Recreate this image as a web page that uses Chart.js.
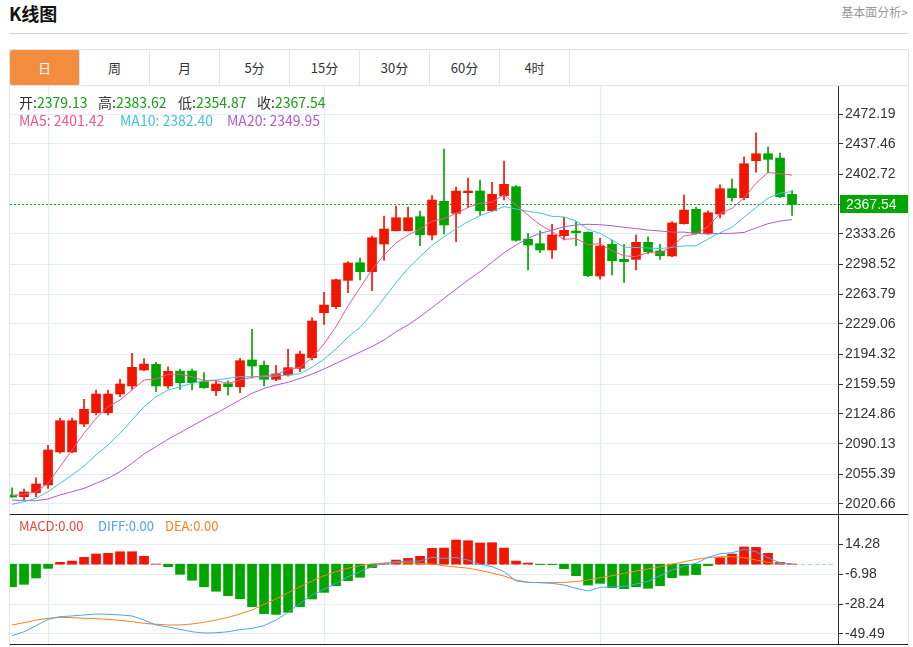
<!DOCTYPE html>
<html lang="zh-CN">
<head>
<meta charset="utf-8">
<title>K线图</title>
<script src="https://cdn.jsdelivr.net/npm/chart.js@4.4.1/dist/chart.umd.min.js"></script>
<style>
    html, body { margin: 0; padding: 0; background: #fff; }
    body { width: 913px; height: 647px; position: relative; overflow: hidden;
           font-family: "Noto Sans CJK SC", "Noto Sans", sans-serif; color: #333; }
    .title { position: absolute; left: 9px; top: 0; font-size: 18px; font-weight: bold; color: #111; line-height: 26px; }
    .more { position: absolute; right: 5px; top: 4px; font-size: 12px; color: #999; line-height: 16px; }
    .rule { position: absolute; left: 9px; top: 33px; width: 899px; height: 1px; background: #d4d4d4; }
    .tabs { position: absolute; left: 9px; top: 49px; width: 898px; height: 35px; border: 1px solid #e3e3e3; display: flex; }
    .tabs span { width: 69px; border-right: 1px solid #e3e3e3; text-align: center; line-height: 35px; font-size: 13px; }
    .tabs span.on { background: #f28c3e; color: #fff; border-radius: 2px; }
    .vline { position: absolute; width: 1px; background: #e3e3e3; }
    .black { position: absolute; left: 10px; width: 898px; height: 1px; background: #222; }
    canvas { position: absolute; left: 0; }
    .legend { position: absolute; font-size: 14px; line-height: 16px; white-space: pre; }
    .legend.small { font-size: 13px; }
    .legend span { position: absolute; top: 0; }
</style>
</head>
<body>
<div class="title">K线图</div>
<div class="more">基本面分析&gt;</div>
<div class="rule"></div>
<div class="tabs">
    <span class="on">日</span><span>周</span><span>月</span><span>5分</span><span>15分</span><span>30分</span><span>60分</span><span>4时</span>
</div>
<div class="vline" style="left:9px;top:85px;height:562px"></div>
<div class="vline" style="left:908px;top:49px;height:598px"></div>

<canvas id="kline" width="913" height="428" style="top:86px"></canvas>
<canvas id="macd" width="913" height="133" style="top:514px"></canvas>

<div class="black" style="top:514px"></div>
<div class="black" style="top:644px"></div>

<div class="legend" id="ohlc_legend" style="left:0;top:94px;width:400px;height:16px"></div>
<div class="legend" id="ma_legend" style="left:0;top:112px;width:400px;height:16px"></div>
<div class="legend small" id="macd_legend" style="left:0;top:518px;width:400px;height:16px"></div>

<script>
'use strict';

// daily candles, oldest first (last one is the current day)
const opens = [
    2031.1, 2029.1, 2033.7, 2042.7, 2080.9, 2080.9, 2113.3, 2126.4, 2126.4, 2148.0,
    2157.3, 2175.8, 2182.4, 2157.3, 2174.6, 2174.6, 2162.2, 2151.8, 2159.9, 2156.5,
    2187.4, 2181.2, 2165.0, 2170.0, 2177.8, 2190.0, 2242.1, 2249.1, 2279.6, 2300.0,
    2289.6, 2321.7, 2337.0, 2337.0, 2353.3, 2332.1, 2371.1, 2357.2, 2381.1, 2383.0,
    2360.2, 2377.6, 2388.0, 2327.4, 2322.0, 2314.7, 2331.3, 2336.7, 2335.2, 2284.6,
    2321.3, 2303.9, 2303.9, 2323.6, 2313.6, 2307.8, 2345.2, 2361.8, 2334.0, 2356.4,
    2385.7, 2375.3, 2418.1, 2426.2, 2421.2, 2379.13
];
const highs = [
    2039.5, 2038.0, 2051.1, 2088.6, 2120.2, 2120.2, 2141.9, 2152.6, 2152.6, 2165.0,
    2195.1, 2188.9, 2184.7, 2179.6, 2176.9, 2176.9, 2172.7, 2163.4, 2163.4, 2189.3,
    2222.9, 2186.2, 2181.2, 2199.8, 2197.8, 2236.3, 2265.7, 2281.1, 2301.2, 2305.4,
    2330.9, 2354.1, 2365.6, 2364.5, 2359.9, 2377.6, 2431.6, 2387.6, 2398.1, 2395.7,
    2393.1, 2417.7, 2389.2, 2334.0, 2337.0, 2344.5, 2352.6, 2347.5, 2335.9, 2328.3,
    2326.3, 2321.3, 2332.1, 2330.1, 2321.3, 2347.5, 2378.4, 2364.1, 2360.2, 2390.3,
    2396.9, 2422.7, 2450.5, 2434.3, 2427.0, 2383.62
];
const lows = [
    2028.2, 2025.3, 2029.1, 2038.8, 2079.4, 2080.0, 2110.1, 2123.7, 2123.7, 2144.9,
    2153.4, 2175.0, 2150.7, 2154.6, 2153.4, 2152.6, 2154.5, 2146.0, 2146.8, 2149.5,
    2166.2, 2157.3, 2163.4, 2168.8, 2173.8, 2187.4, 2228.7, 2246.8, 2265.3, 2280.0,
    2267.6, 2303.1, 2336.7, 2336.7, 2319.7, 2326.3, 2333.3, 2324.3, 2364.1, 2355.2,
    2359.1, 2372.6, 2325.1, 2291.6, 2311.6, 2305.1, 2326.3, 2319.7, 2283.8, 2281.1,
    2285.8, 2277.3, 2291.6, 2310.1, 2303.9, 2307.0, 2344.5, 2333.2, 2333.2, 2351.8,
    2371.4, 2372.6, 2404.9, 2403.9, 2375.3, 2354.87
];
const closes = [
    2028.8, 2034.6, 2043.8, 2083.2, 2117.1, 2117.1, 2130.3, 2148.0, 2148.0, 2159.6,
    2178.9, 2182.7, 2157.3, 2174.3, 2161.1, 2161.1, 2155.3, 2159.6, 2156.5, 2186.6,
    2180.4, 2165.0, 2171.2, 2178.5, 2194.3, 2232.5, 2251.0, 2280.3, 2299.7, 2289.6,
    2328.9, 2339.0, 2352.1, 2352.1, 2332.4, 2372.6, 2343.7, 2383.0, 2383.0, 2360.2,
    2379.2, 2390.8, 2326.0, 2320.5, 2314.7, 2332.1, 2337.5, 2334.7, 2285.0, 2319.3,
    2302.3, 2301.2, 2323.6, 2312.7, 2308.1, 2346.0, 2361.0, 2334.0, 2357.9, 2385.7,
    2375.3, 2414.6, 2426.2, 2419.7, 2376.4, 2367.54
];

// moving averages as plotted
const ma5 = [
    2030.3, 2031.9, 2034.9, 2044.6, 2063.8, 2083.2, 2102.5, 2119.9, 2133.3, 2141.1,
    2152.6, 2164.2, 2165.4, 2170.8, 2170.8, 2168.0, 2163.4, 2163.4, 2160.4, 2164.2,
    2167.3, 2169.2, 2170.3, 2176.6, 2178.9, 2190.0, 2206.0, 2226.0, 2250.0, 2271.0,
    2292.0, 2309.0, 2323.0, 2332.0, 2339.0, 2348.0, 2351.0, 2357.0, 2364.0, 2369.0,
    2370.0, 2379.0, 2367.0, 2355.0, 2344.0, 2336.0, 2327.0, 2328.0, 2321.0, 2322.0,
    2314.0, 2308.0, 2307.0, 2312.0, 2311.0, 2319.0, 2331.0, 2333.0, 2342.0, 2357.0,
    2363.0, 2375.0, 2392.0, 2404.5, 2403.0, 2401.42
];
const ma10 = [
    2020.3, 2023.3, 2027.3, 2034.9, 2044.6, 2054.2, 2064.7, 2077.4, 2089.0, 2102.5,
    2117.9, 2133.3, 2144.9, 2152.6, 2156.5, 2160.4, 2163.4, 2164.2, 2166.2, 2168.0,
    2168.0, 2168.0, 2168.8, 2170.0, 2171.5, 2179.0, 2188.5, 2200.0, 2214.0, 2225.0,
    2241.0, 2259.0, 2277.0, 2293.5, 2307.0, 2320.0, 2330.0, 2339.5, 2347.5, 2354.5,
    2359.5, 2365.0, 2362.2, 2359.5, 2357.6, 2353.7, 2353.0, 2348.3, 2338.5, 2334.0,
    2326.3, 2318.0, 2317.6, 2317.0, 2316.5, 2317.7, 2319.5, 2319.5, 2327.5, 2334.6,
    2341.2, 2352.6, 2364.0, 2374.6, 2380.6, 2382.40
];
const ma20 = [
    2025.3, 2024.5, 2024.5, 2026.5, 2031.1, 2034.9, 2038.8, 2044.6, 2050.4, 2058.1,
    2067.8, 2078.5, 2087.0, 2095.6, 2103.2, 2111.0, 2118.7, 2125.7, 2133.3, 2141.1,
    2148.8, 2154.5, 2158.5, 2161.5, 2166.0, 2171.0, 2177.0, 2183.5, 2190.0, 2196.5,
    2203.0, 2210.5, 2220.1, 2227.9, 2237.5, 2248.0, 2258.8, 2269.3, 2280.0, 2289.6,
    2300.5, 2311.6, 2320.5, 2328.3, 2334.1, 2337.5, 2341.7, 2343.7, 2344.5, 2344.0,
    2342.8, 2341.0, 2339.5, 2337.8, 2336.7, 2335.5, 2335.4, 2333.9, 2333.2, 2333.9,
    2334.1, 2335.1, 2340.3, 2345.2, 2348.2, 2349.95
];

// MACD panel
const macd_hist = [
    -16.0, -14.3, -9.8, -3.0, 1.3, 2.2, 4.8, 7.2, 7.7, 8.8,
    8.8, 5.6, 0.1, -1.8, -7.2, -11.4, -16.0, -19.2, -22.3, -24.5,
    -30.1, -35.1, -35.6, -34.1, -30.1, -24.7, -20.0, -15.3, -11.7, -9.3,
    -2.5, 0.3, 2.9, 4.1, 5.6, 11.2, 11.4, 17.1, 16.6, 15.0,
    15.2, 11.4, 2.2, 0.8, -0.3, -0.3, -3.2, -8.2, -14.8, -13.6,
    -16.7, -17.4, -16.0, -17.1, -15.3, -9.6, -7.9, -7.4, -1.1, 4.6,
    7.2, 12.2, 11.9, 7.7, 1.3, 0.1
];
const diff = [
    -50.7, -47.9, -43.6, -39.1, -37.2, -36.7, -36.0, -35.3, -35.5, -36.0,
    -36.7, -39.6, -43.1, -44.5, -46.2, -47.9, -48.8, -48.6, -47.9, -46.4,
    -45.5, -43.6, -39.6, -34.1, -27.8, -21.9, -17.8, -13.6, -8.9, -5.3,
    -1.8, 0.6, 1.7, 2.2, 2.2, 4.8, 4.1, 4.7, 2.9, -0.1,
    -1.8, -5.3, -11.9, -12.9, -13.1, -13.6, -14.8, -17.1, -19.0, -16.4,
    -16.2, -15.7, -14.1, -12.2, -8.2, -4.1, -1.3, 0.6, 4.8, 7.4,
    8.1, 10.5, 8.8, 4.6, 1.0, 0.1
];
const dea = [
    -43.1, -41.5, -39.6, -38.4, -37.7, -37.9, -38.4, -38.6, -39.1, -39.8,
    -40.8, -41.9, -42.6, -43.1, -43.1, -42.4, -41.2, -39.6, -37.7, -35.3,
    -32.5, -28.5, -24.7, -20.2, -16.0, -11.9, -8.2, -5.3, -2.9, -1.1,
    0.1, 0.8, 1.0, 0.8, 0.6, 0.1, -1.1, -2.0, -2.9, -4.4,
    -6.3, -8.4, -11.2, -12.9, -13.1, -13.1, -12.9, -12.4, -11.2, -9.6,
    -8.2, -6.5, -4.9, -3.4, -1.8, -0.1, 1.7, 3.4, 4.6, 5.3,
    5.3, 4.6, 2.9, 1.3, 0.6, 0.1
];

// axis ticks
const price_ticks = [2020.66, 2055.39, 2090.13, 2124.86, 2159.59, 2194.32, 2229.06,
                     2263.79, 2298.52, 2333.26, 2367.99, 2402.72, 2437.46, 2472.19];
const macd_ticks = [14.28, -6.98, -28.24, -49.49];
const month_marks = [3, 26, 49];

const UP = '#f21500';
const DOWN = '#00a600';
const GRID = '#e4ecf3';
const AXIS_FONT = { family: "'Liberation Sans Narrow', 'Liberation Sans', sans-serif", size: 14 };
const MA_COLORS = ['#f0568a', '#3ec6df', '#b25ccb'];

function candle_color(i) {
    return closes[i] >= opens[i] ? UP : DOWN;
}

function points(values) {
    return values.map((v, i) => ({ x: i, y: v }));
}

function fix_y_axis(ticks) {
    return {
        position: 'right',
        afterBuildTicks: (scale) => { scale.ticks = ticks.map(v => ({ value: v })); },
        afterFit: (scale) => { scale.width = 75; scale.paddingTop = 0; scale.paddingBottom = 0; },
        grid: { color: GRID, tickColor: '#333', tickLength: 5, drawTicks: true },
        border: { display: true, color: '#333', width: 1 },
        ticks: { color: '#333', font: AXIS_FONT, padding: 2, callback: v => v.toFixed(2) }
    };
}

function fix_x_axis() {
    return {
        type: 'linear',
        min: -0.17,
        max: 68.83,
        offset: false,
        afterBuildTicks: (scale) => { scale.ticks = month_marks.map(v => ({ value: v })); },
        afterFit: (scale) => { scale.height = 0; scale.paddingLeft = 0; scale.paddingRight = 0; },
        grid: { color: GRID, offset: false, drawTicks: false },
        border: { display: false },
        ticks: { display: false }
    };
}

const last_price = {
    id: 'last_price',
    beforeDatasetsDraw(chart) {
        const area = chart.chartArea, ctx = chart.ctx;
        const y = Math.round(chart.scales.y.getPixelForValue(closes[closes.length - 1])) + 0.5;
        ctx.save();
        ctx.strokeStyle = '#1e9a1e';
        ctx.lineWidth = 1;
        ctx.setLineDash([2, 2]);
        ctx.beginPath();
        ctx.moveTo(area.left, y);
        ctx.lineTo(area.right, y);
        ctx.stroke();
        ctx.restore();
    },
    afterDraw(chart) {
        const area = chart.chartArea, ctx = chart.ctx;
        const y = Math.round(chart.scales.y.getPixelForValue(closes[closes.length - 1]));
        ctx.save();
        ctx.fillStyle = '#04a604';
        ctx.fillRect(area.right + 2, y - 9, chart.width - 5 - area.right - 2, 18);
        ctx.fillStyle = '#fff';
        ctx.font = AXIS_FONT.size + 'px ' + AXIS_FONT.family;
        ctx.textBaseline = 'middle';
        ctx.fillText(closes[closes.length - 1].toFixed(2), area.right + 8, y + 1);
        ctx.restore();
    }
};

const zero_line = {
    id: 'zero_line',
    beforeDatasetsDraw(chart) {
        const area = chart.chartArea, ctx = chart.ctx;
        const y = Math.round(chart.scales.y.getPixelForValue(0)) + 0.5;
        ctx.save();
        ctx.strokeStyle = '#a9d9ef';
        ctx.lineWidth = 1;
        ctx.setLineDash([4, 3]);
        ctx.beginPath();
        ctx.moveTo(area.left, y);
        ctx.lineTo(area.right - 2, y);
        ctx.stroke();
        ctx.restore();
    }
};

function line_set(values, color) {
    return {
        type: 'line', data: points(values), borderColor: color, borderWidth: 1,
        pointRadius: 0, tension: 0, fill: false, order: 0
    };
}

function build_kline() {
    const colors = closes.map((c, i) => candle_color(i));
    return new Chart(document.getElementById('kline'), {
        type: 'bar',
        data: {
            datasets: [
                line_set(ma5, MA_COLORS[0]),
                line_set(ma10, MA_COLORS[1]),
                line_set(ma20, MA_COLORS[2]),
                {
                    data: opens.map((o, i) => ({ x: i, y: [o, closes[i]] })),
                    backgroundColor: colors, barThickness: 9, minBarLength: 1,
                    grouped: false, order: 1
                },
                {
                    data: lows.map((l, i) => ({ x: i, y: [l, highs[i]] })),
                    backgroundColor: colors, barThickness: 1, minBarLength: 1,
                    grouped: false, order: 2
                }
            ]
        },
        options: {
            responsive: false,
            animation: false,
            events: [],
            layout: { padding: { left: 10, right: 0, top: 0, bottom: 0 } },
            plugins: { legend: { display: false }, tooltip: { enabled: false } },
            scales: {
                x: fix_x_axis(),
                y: Object.assign(fix_y_axis(price_ticks), { min: 2009.08, max: 2504.61 })
            }
        },
        plugins: [last_price]
    });
}

function build_macd() {
    return new Chart(document.getElementById('macd'), {
        type: 'bar',
        data: {
            datasets: [
                line_set(diff, '#4ba4f0'),
                line_set(dea, '#f5821f'),
                {
                    data: points(macd_hist),
                    backgroundColor: macd_hist.map(v => v >= 0 ? UP : DOWN),
                    barThickness: 9, grouped: false, order: 1
                }
            ]
        },
        options: {
            responsive: false,
            animation: false,
            events: [],
            layout: { padding: { left: 10, right: 0, top: 0, bottom: 3 } },
            plugins: { legend: { display: false }, tooltip: { enabled: false } },
            scales: {
                x: fix_x_axis(),
                y: Object.assign(fix_y_axis(macd_ticks), { min: -56.58, max: 35.54 })
            }
        },
        plugins: [zero_line]
    });
}

function fill_legend(id, items) {
    const box = document.getElementById(id);
    items.forEach(([left, label, value, label_color, value_color]) => {
        const span = document.createElement('span');
        span.style.left = left + 'px';
        span.innerHTML = '<span style="position:static;color:' + label_color + '">' + label +
            '</span><span style="position:static;color:' + value_color + '">' + value + '</span>';
        box.appendChild(span);
    });
}

const n = closes.length - 1;
const quote_color = closes[n] >= opens[n] ? UP : '#16a016';
fill_legend('ohlc_legend', [
    [19, '开:', opens[n].toFixed(2), '#333', quote_color],
    [98, '高:', highs[n].toFixed(2), '#333', quote_color],
    [178, '低:', lows[n].toFixed(2), '#333', quote_color],
    [257, '收:', closes[n].toFixed(2), '#333', quote_color]
]);
fill_legend('ma_legend', [
    [19, 'MA5: ', ma5[n].toFixed(2), MA_COLORS[0], MA_COLORS[0]],
    [120, 'MA10: ', ma10[n].toFixed(2), MA_COLORS[1], MA_COLORS[1]],
    [227, 'MA20: ', ma20[n].toFixed(2), MA_COLORS[2], MA_COLORS[2]]
]);
fill_legend('macd_legend', [
    [19, 'MACD:', '0.00', '#ee4433', '#ee4433'],
    [98, 'DIFF:', '0.00', '#4ba4f0', '#4ba4f0'],
    [165, 'DEA:', '0.00', '#f5821f', '#f5821f']
]);

build_kline();
build_macd();
</script>
</body>
</html>
